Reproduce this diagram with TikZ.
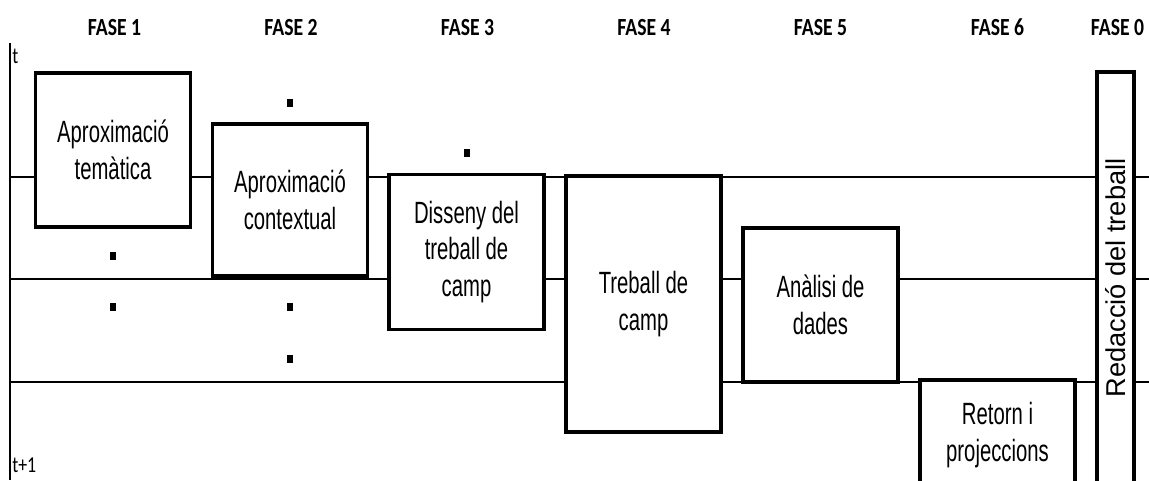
\documentclass[tikz,border=0pt]{standalone}
\usepackage{fontspec}
\setmainfont{Liberation Sans}
\newfontfamily\narrowfont[FakeStretch=0.66]{Liberation Sans}
\newfontfamily\fasefont[FakeStretch=0.8]{Carlito}
\newfontfamily\tfont[FakeStretch=0.78]{Carlito}
\usetikzlibrary{positioning}

\tikzset{
  fasebox/.style = {draw, line width=2pt, fill=white, align=center, inner sep=0pt,
                    minimum width=3.1cm, font=\narrowfont\fontsize{17.5}{21}\selectfont},
  gridline/.style = {line width=0.9pt},
  punt/.style = {fill=black, inner sep=0pt, minimum width=0.13cm, minimum height=0.17cm},
  fasetitle/.style = {anchor=base, font=\fasefont\bfseries\fontsize{14}{16}\selectfont},
  tlabel/.style = {anchor=base west, inner sep=0pt, font=\tfont\fontsize{13}{15}\selectfont}
}

\begin{document}
\begin{tikzpicture}[x=0.02cm, y=-0.02cm]
\useasboundingbox (0,0) rectangle (1149,480);
\clip (0,0) rectangle (1149,480);

% eix temporal
\coordinate (t0) at (10,43);
\coordinate (t1) at (10,480);
\draw[line width=1pt] (t0) -- (t1);
\node[tlabel] (tt) at (12,63) {t};
\node[tlabel] (tt1) at (12,472) {t+1};

% linies horitzontals
\foreach \i/\y in {a/177, b/279, c/382} {
  \coordinate (l\i) at (10,\y);
  \coordinate (r\i) at (1149,\y);
  \draw[gridline] (l\i) -- (r\i);
}

% fases
\foreach \n/\x in {1/114.5, 2/291, 3/467.5, 4/644, 5/820.5, 6/997.5, 0/1117.5}
  \node[fasetitle] (fase\n) at (\x,35) {FASE \n};

% punts
\foreach \x/\y [count=\k] in {290/103, 467/153, 113/256, 113/307, 290/307, 290/359}
  \node[punt] (p\k) at (\x,\y) {};

% caixes
\node[fasebox, minimum height=3.08cm] (apxtem) at (113,150) {Aproximació\\temàtica};
\node[fasebox, minimum height=3.04cm] (apxcon) at (290,200) {Aproximació\\contextual};
\node[fasebox, minimum height=3.1cm] (disseny) at (466.5,252) {Disseny del\\treball de\\camp};
\node[fasebox, minimum height=5.12cm] (treball) at (643.5,304) {Treball de\\camp};
\node[fasebox, minimum height=3.08cm] (analisi) at (820.5,305) {Anàlisi de\\dades};
\node[fasebox, minimum height=2.2cm] (retorn) at (997.5,435) {Retorn i\\projeccions};
\node[fasebox, rotate=90, minimum width=8.24cm, minimum height=0.74cm,
      font=\fontsize{15.5}{18}\selectfont] (redaccio) at (1115.5,278) {Redacció del treball};
\end{tikzpicture}
\end{document}
